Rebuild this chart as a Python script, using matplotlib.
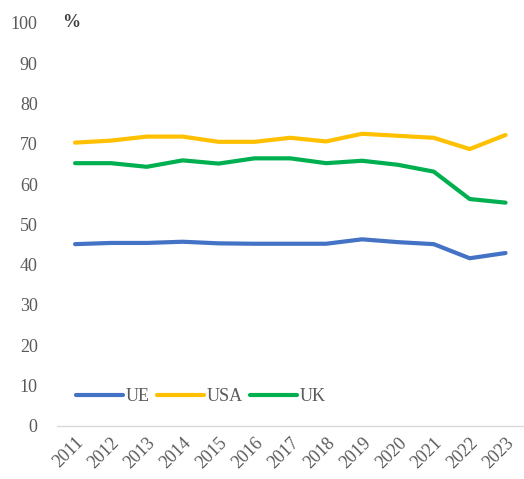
import numpy as np
import matplotlib.pyplot as plt

years = [str(y) for y in range(2011, 2024)]
ue = [45.1, 45.4, 45.4, 45.7, 45.3, 45.2, 45.2, 45.2, 46.3, 45.6, 45.1, 41.6, 42.9]
usa = [70.3, 70.8, 71.8, 71.8, 70.5, 70.5, 71.5, 70.6, 72.5, 72.0, 71.5, 68.7, 72.2]
uk = [65.2, 65.2, 64.3, 65.9, 65.1, 66.4, 66.4, 65.2, 65.8, 64.8, 63.1, 56.3, 55.4]

plt.rcParams['font.family'] = ['Liberation Serif', 'DejaVu Serif']

fig = plt.figure(figsize=(5.24, 4.79), dpi=100)
ax = fig.add_axes([0.109, 0.111, 0.89, 0.841])

x = np.arange(len(years))
ax.plot(x, ue, color="#4472C4", lw=3, label="UE", solid_capstyle="round")
ax.plot(x, usa, color="#FFC000", lw=3, label="USA", solid_capstyle="round")
ax.plot(x, uk, color="#00B050", lw=3, label="UK", solid_capstyle="round")

ax.set_xlim(-0.5, len(years) - 0.5)
ax.set_ylim(0, 100)
ax.set_yticks(range(0, 101, 10))
ax.set_xticks(x)
ax.set_xticklabels(years, rotation=45, ha="right", rotation_mode="anchor")
ax.tick_params(axis="both", length=0, labelsize=13, colors="#595959")
ax.tick_params(axis="y", pad=14)
ax.tick_params(axis="x", pad=6)

for s in ["top", "right", "left"]:
    ax.spines[s].set_visible(False)
ax.spines["bottom"].set_color("#D9D9D9")
ax.spines["bottom"].set_linewidth(1)

ax.text(0.01, 1.0, "%", transform=ax.transAxes, fontsize=13, color="#404040",
        va="center", ha="left", fontweight="bold")

ax.legend(loc="center left", bbox_to_anchor=(0.005, 0.073), ncol=3, frameon=False,
          fontsize=13, handlelength=2.6, handletextpad=0.15, columnspacing=0.4,
          labelcolor="#595959")

fig.savefig("out.png", dpi=100)
